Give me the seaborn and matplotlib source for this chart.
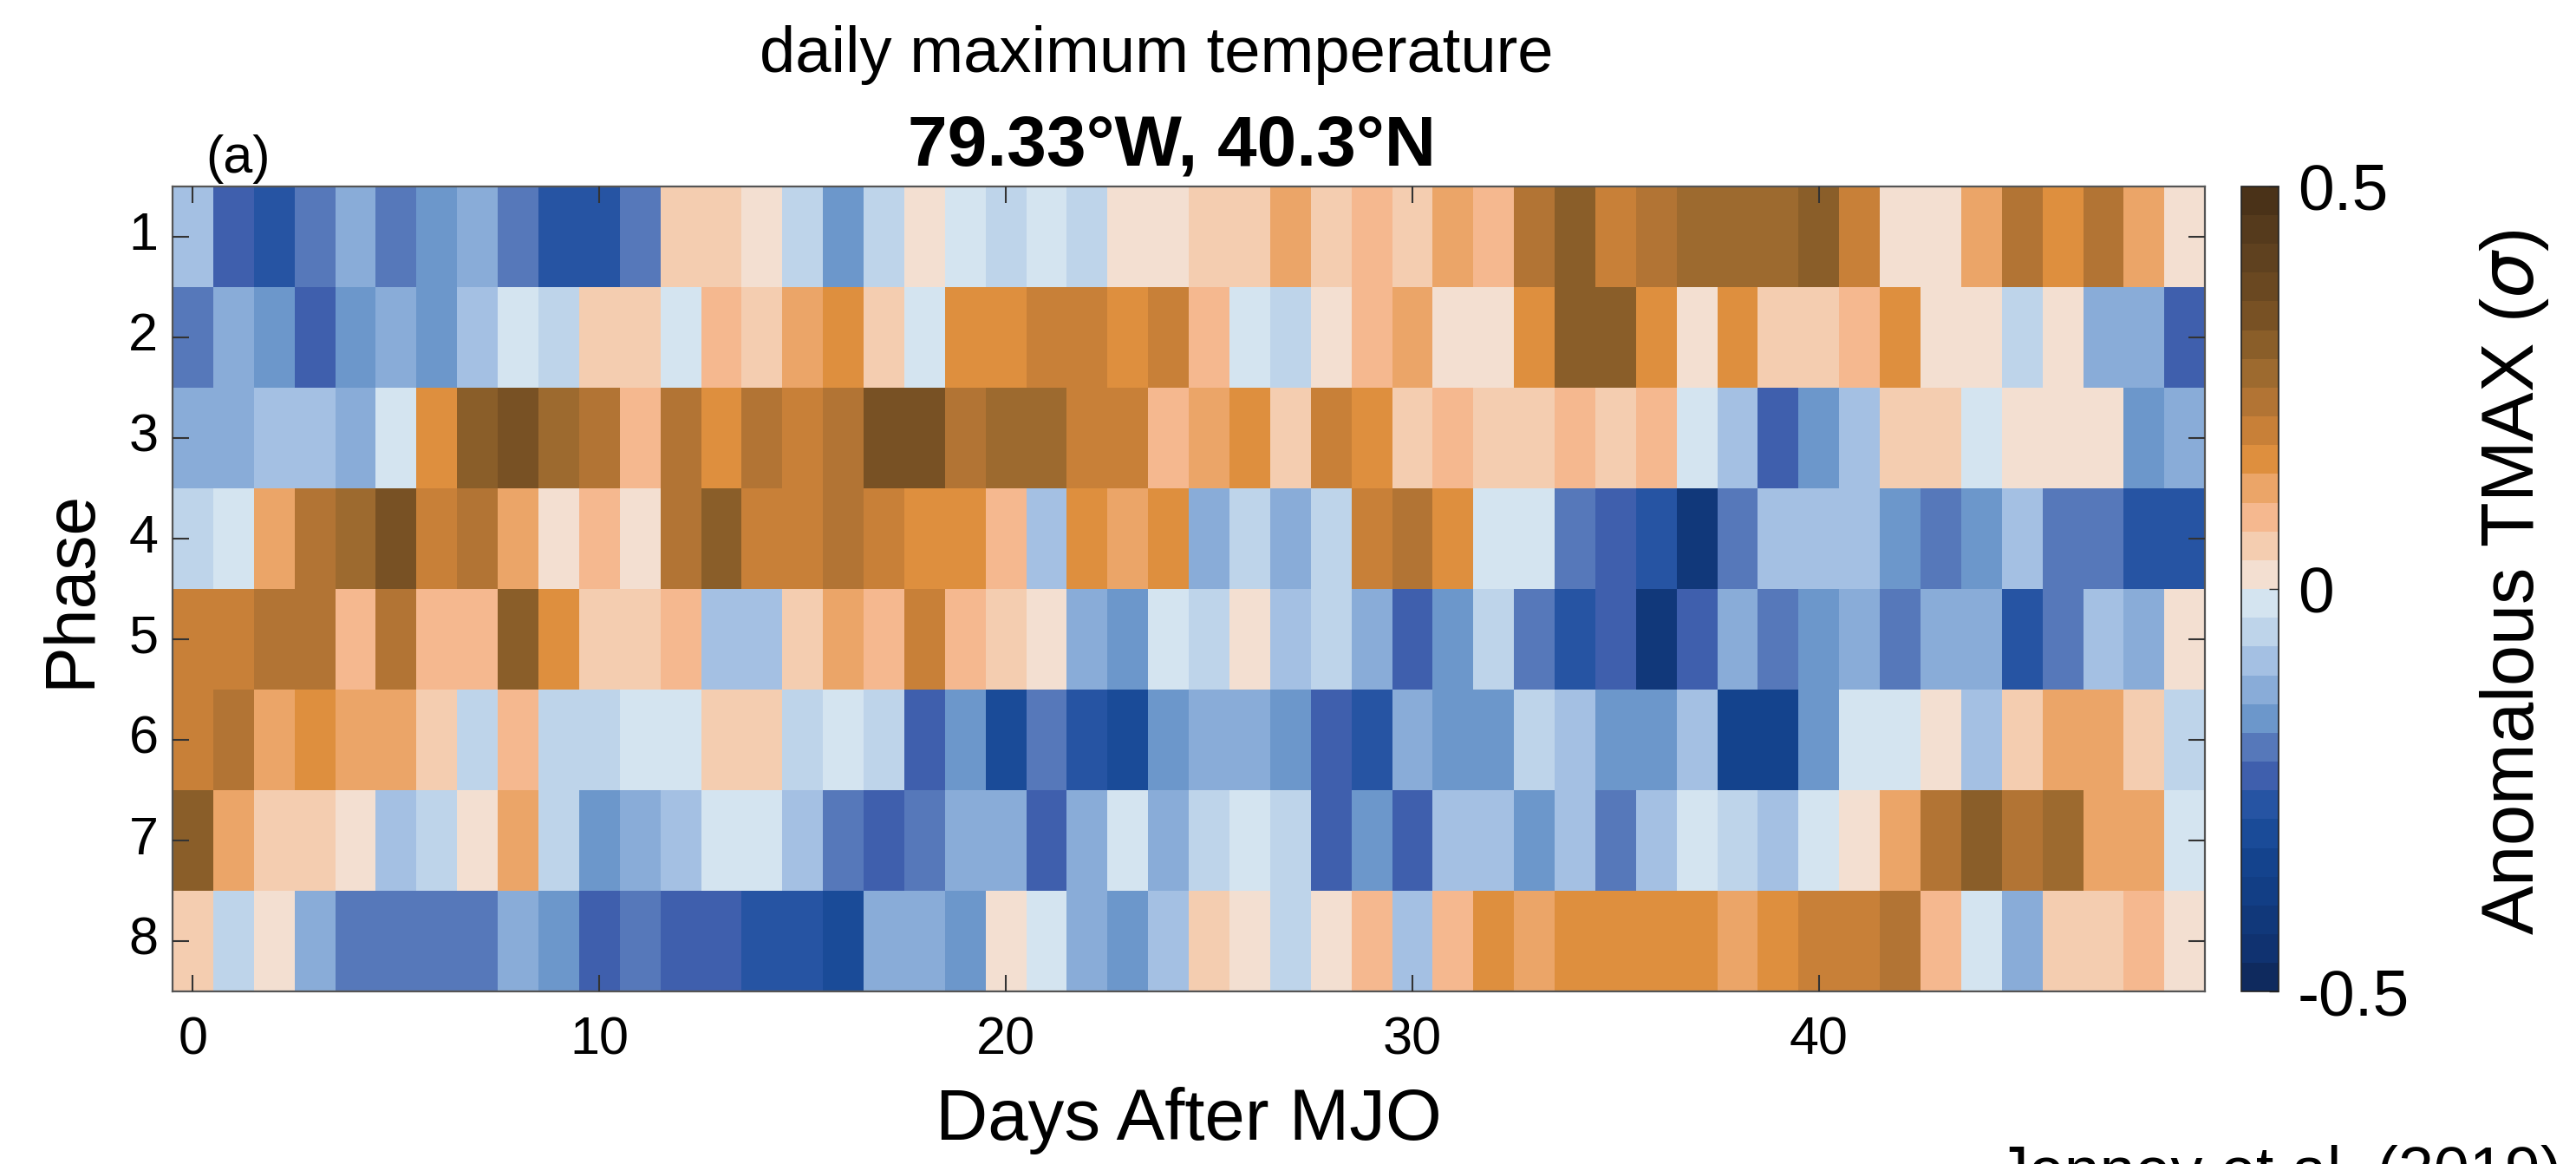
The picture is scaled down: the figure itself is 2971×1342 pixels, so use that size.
"""
MJO phase composite of daily maximum temperature anomalies (heatmap).
"""

import numpy as np
import pandas as pd
import matplotlib
matplotlib.use('Agg')
import matplotlib.pyplot as plt
from matplotlib.colors import ListedColormap
import seaborn as sns

sns.set_style('white')
plt.rcParams['font.family'] = ['Liberation Sans', 'DejaVu Sans']
plt.rcParams['mathtext.fontset'] = 'dejavusans'
plt.rcParams['text.color'] = 'black'
plt.rcParams['axes.labelcolor'] = 'black'

# Anomalous TMAX (sigma) for each MJO phase, days 0..49 after the MJO event
phase1 = [-0.09, -0.23, -0.27, -0.20, -0.13, -0.20, -0.16, -0.13, -0.20, -0.27,
          -0.27, -0.20, 0.05, 0.05, 0.02, -0.05, -0.16, -0.05, 0.02, -0.02,
          -0.05, -0.02, -0.05, 0.02, 0.02, 0.05, 0.05, 0.13, 0.05, 0.09,
          0.05, 0.13, 0.09, 0.23, 0.30, 0.20, 0.23, 0.27, 0.27, 0.27,
          0.30, 0.20, 0.02, 0.02, 0.13, 0.23, 0.16, 0.23, 0.13, 0.02]
phase2 = [-0.20, -0.13, -0.16, -0.23, -0.16, -0.13, -0.16, -0.09, -0.02, -0.05,
          0.05, 0.05, -0.02, 0.09, 0.05, 0.13, 0.16, 0.05, -0.02, 0.16,
          0.16, 0.20, 0.20, 0.16, 0.20, 0.09, -0.02, -0.05, 0.02, 0.09,
          0.13, 0.02, 0.02, 0.16, 0.30, 0.30, 0.16, 0.02, 0.16, 0.05,
          0.05, 0.09, 0.16, 0.02, 0.02, -0.05, 0.02, -0.13, -0.13, -0.23]
phase3 = [-0.13, -0.13, -0.09, -0.09, -0.13, -0.02, 0.16, 0.30, 0.34, 0.27,
          0.23, 0.09, 0.23, 0.16, 0.23, 0.20, 0.23, 0.34, 0.34, 0.23,
          0.27, 0.27, 0.20, 0.20, 0.09, 0.13, 0.16, 0.05, 0.20, 0.16,
          0.05, 0.09, 0.05, 0.05, 0.09, 0.05, 0.09, -0.02, -0.09, -0.23,
          -0.16, -0.09, 0.05, 0.05, -0.02, 0.02, 0.02, 0.02, -0.16, -0.13]
phase4 = [-0.05, -0.02, 0.13, 0.23, 0.27, 0.34, 0.20, 0.23, 0.13, 0.02,
          0.09, 0.02, 0.23, 0.30, 0.20, 0.20, 0.23, 0.20, 0.16, 0.16,
          0.09, -0.09, 0.16, 0.13, 0.16, -0.13, -0.05, -0.13, -0.05, 0.20,
          0.23, 0.16, -0.02, -0.02, -0.20, -0.23, -0.27, -0.41, -0.20, -0.09,
          -0.09, -0.09, -0.16, -0.20, -0.16, -0.09, -0.20, -0.20, -0.27, -0.27]
phase5 = [0.20, 0.20, 0.23, 0.23, 0.09, 0.23, 0.09, 0.09, 0.30, 0.16,
          0.05, 0.05, 0.09, -0.09, -0.09, 0.05, 0.13, 0.09, 0.20, 0.09,
          0.05, 0.02, -0.13, -0.16, -0.02, -0.05, 0.02, -0.09, -0.05, -0.13,
          -0.23, -0.16, -0.05, -0.20, -0.27, -0.23, -0.41, -0.23, -0.13, -0.20,
          -0.16, -0.13, -0.20, -0.13, -0.13, -0.27, -0.20, -0.09, -0.13, 0.02]
phase6 = [0.20, 0.23, 0.13, 0.16, 0.13, 0.13, 0.05, -0.05, 0.09, -0.05,
          -0.05, -0.02, -0.02, 0.05, 0.05, -0.05, -0.02, -0.05, -0.23, -0.16,
          -0.30, -0.20, -0.27, -0.30, -0.16, -0.13, -0.13, -0.16, -0.23, -0.27,
          -0.13, -0.16, -0.16, -0.05, -0.09, -0.16, -0.16, -0.09, -0.34, -0.34,
          -0.16, -0.02, -0.02, 0.02, -0.09, 0.05, 0.13, 0.13, 0.05, -0.05]
phase7 = [0.30, 0.13, 0.05, 0.05, 0.02, -0.09, -0.05, 0.02, 0.13, -0.05,
          -0.16, -0.13, -0.09, -0.02, -0.02, -0.09, -0.20, -0.23, -0.20, -0.13,
          -0.13, -0.23, -0.13, -0.02, -0.13, -0.05, -0.02, -0.05, -0.23, -0.16,
          -0.23, -0.09, -0.09, -0.16, -0.09, -0.20, -0.09, -0.02, -0.05, -0.09,
          -0.02, 0.02, 0.13, 0.23, 0.30, 0.23, 0.27, 0.13, 0.13, -0.02]
phase8 = [0.05, -0.05, 0.02, -0.13, -0.20, -0.20, -0.20, -0.20, -0.13, -0.16,
          -0.23, -0.20, -0.23, -0.23, -0.27, -0.27, -0.30, -0.13, -0.13, -0.16,
          0.02, -0.02, -0.13, -0.16, -0.09, 0.05, 0.02, -0.05, 0.02, 0.09,
          -0.09, 0.09, 0.16, 0.13, 0.16, 0.16, 0.16, 0.16, 0.13, 0.16,
          0.20, 0.20, 0.23, 0.09, -0.02, -0.13, 0.05, 0.05, 0.09, 0.02]

phases = ['1', '2', '3', '4', '5', '6', '7', '8']
days = list(range(50))
day_ticks = [0, 10, 20, 30, 40]
cbar_ticks = [-0.5, 0, 0.5]
cbar_ticklabels = ['-0.5', '0', '0.5']

# 28-level blue / brown diverging colour map (bottom -> top)
level_colors = ['#0F2A5E', '#103270', '#11387A', '#123E85', '#14438D', '#1A4B98',
                '#2654A3', '#3F5FAD', '#5678BA', '#6C97CB', '#89ACD8', '#A4C0E3',
                '#BED4EA', '#D4E4F0',
                '#F3DFD1', '#F4CDB0', '#F5B88F', '#EBA568', '#DE8F3E', '#C88038',
                '#B27434', '#9D6A2F', '#8A5E29', '#785124', '#6A4821', '#5F411F',
                '#553A1C', '#4A3218']
cmap = ListedColormap(level_colors)

df = pd.DataFrame([phase1, phase2, phase3, phase4, phase5, phase6, phase7, phase8],
                  index=phases, columns=days)

fig = plt.figure(figsize=(29.71, 13.42), dpi=100)
ax = fig.add_axes([0.067, 0.148, 0.789, 0.692])
cax = fig.add_axes([0.870, 0.148, 0.0145, 0.692])

sns.heatmap(df, ax=ax, cbar_ax=cax, cmap=cmap, vmin=-0.5, vmax=0.5,
            linewidths=0, cbar_kws={'ticks': cbar_ticks})

# axes styling (ticks must sit above the mesh)
ax.set_axisbelow(False)
cax.set_axisbelow(False)
ax.set_xticks([d + 0.5 for d in day_ticks])
ax.set_xticklabels([str(d) for d in day_ticks], rotation=0)
ax.set_yticks([i + 0.5 for i in range(len(phases))])
ax.set_yticklabels(phases, rotation=0)
ax.tick_params(axis='both', direction='in', length=14, width=1.5, color='#333333',
               labelsize=44, labelcolor='black', top=True, right=True, bottom=True, left=True)
ax.tick_params(axis='x', pad=20)
ax.tick_params(axis='y', pad=12)
for spine in ax.spines.values():
    spine.set_visible(True)
    spine.set_linewidth(1.6)
    spine.set_color('#555555')

ax.set_xlabel('Days After MJO', fontsize=60, labelpad=18)
ax.set_ylabel('Phase', fontsize=58, labelpad=20)

# colorbar
cbar = ax.collections[0].colorbar
cbar.outline.set_linewidth(1.2)
cbar.outline.set_edgecolor('#222222')
cbar.set_ticks(cbar_ticks)
cbar.set_ticklabels(cbar_ticklabels)
cax.tick_params(direction='in', length=8, width=1, color='#222222', labelcolor='black',
                labelsize=54, pad=16)
fig.text(0.976, 0.50, 'Anomalous TMAX ($\\sigma$)', rotation=90, fontsize=61,
         ha='center', va='center')

# titles and annotations
fig.text(0.449, 0.938, 'daily maximum temperature', fontsize=53.5, ha='center', va='baseline')
fig.text(0.455, 0.858, '79.33°W, 40.3°N', fontsize=59, fontweight='bold',
         ha='center', va='baseline')
fig.text(0.080, 0.852, '(a)', fontsize=44, ha='left', va='baseline')
fig.text(0.775, -0.024, 'Jenney et al. (2019)', fontsize=53, ha='left', va='baseline')

fig.savefig('out.png', dpi=100)
plt.close(fig)
